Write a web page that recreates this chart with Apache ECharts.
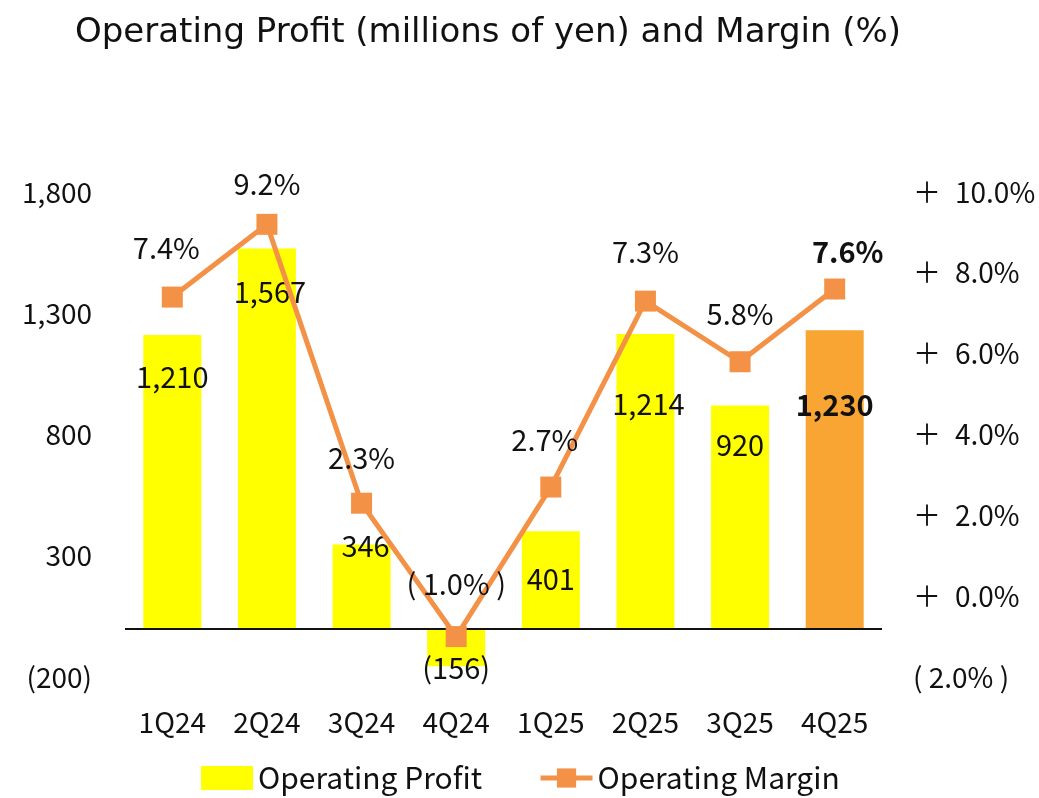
<!DOCTYPE html>
<html>
<head>
<meta charset="utf-8">
<script src="https://cdn.jsdelivr.net/npm/echarts@6/dist/echarts.min.js"></script>
<style>
	html, body { margin: 0; padding: 0; background: #fff; }
	#chart { width: 1039px; height: 798px; }
</style>
</head>
<body>
<div id="chart"></div>
<script>
	var quarters = ['1Q24', '2Q24', '3Q24', '4Q24', '1Q25', '2Q25', '3Q25', '4Q25'];
	var operatingProfit = [1210, 1567, 346, -156, 401, 1214, 920, 1230];
	var operatingMargin = [7.4, 9.2, 2.3, -1.0, 2.7, 7.3, 5.8, 7.6];

	// hand placed labels in the original slide, offsets in px
	var barLabelOffsets = [[0, 22], [3, 24], [4, -18], [0, -18], [0, 28], [3, 50], [0, 20], [0, 55]];
	var lineLabelOffsets = [[-6, -2], [0, 7], [0, 2], [0, -6], [-6, 0], [0, -2], [0, -1], [13, 10]];

	var font = '"Noto Sans CJK JP", "Noto Sans", sans-serif';
	var yellow = '#FFFF00';
	var orange = '#F9A533';
	var lineColor = '#F39247';

	function fmtProfit(v) {
		if (v < 0) return '(' + Math.abs(v).toLocaleString('en-US') + ')';
		return v.toLocaleString('en-US');
	}

	var barData = operatingProfit.map(function(v, i) {
		var last = i === operatingProfit.length - 1;
		return {
			value: v,
			itemStyle: { color: last ? orange : yellow },
			label: {
				position: v < 0 ? 'bottom' : 'insideTop',
				offset: barLabelOffsets[i],
				fontWeight: last ? 'bold' : 'normal'
			}
		};
	});

	var lineData = operatingMargin.map(function(v, i) {
		var last = i === operatingMargin.length - 1;
		return {
			value: v,
			label: {
				offset: lineLabelOffsets[i],
				fontWeight: last ? 'bold' : 'normal',
				formatter: v < 0 ? '( ' + Math.abs(v).toFixed(1) + '% )' : v.toFixed(1) + '%'
			}
		};
	});

	var option = {
		animation: false,
		textStyle: { fontFamily: font },
		title: {
			text: 'Operating Profit (millions of yen) and Margin (%)',
			left: 70,
			top: 11,
			textStyle: {
				fontFamily: '"DejaVu Sans", sans-serif',
				fontWeight: 'normal',
				fontSize: 34,
				color: '#111'
			}
		},
		legend: {
			left: 196,
			bottom: 0,
			itemGap: 56,
			itemWidth: 52,
			itemHeight: 24,
			textStyle: { fontFamily: font, fontSize: 30, color: '#111' },
			data: [
				{ name: 'Operating Profit', icon: 'rect', itemStyle: { color: yellow } },
				{ name: 'Operating Margin', lineStyle: { width: 5, color: lineColor } }
			]
		},
		grid: { left: 125, right: 157, top: 192, bottom: 121 },
		xAxis: {
			type: 'category',
			data: quarters,
			axisLine: { show: false },
			axisTick: { show: false },
			axisLabel: { margin: 31, fontSize: 28, color: '#111', fontFamily: font }
		},
		yAxis: [{
			type: 'value',
			min: -200,
			max: 1800,
			interval: 500,
			splitLine: { show: false },
			axisLine: { show: false },
			axisTick: { show: false },
			axisLabel: { margin: 33, fontSize: 28, color: '#111', fontFamily: font, formatter: fmtProfit }
		}, {
			type: 'value',
			min: -2,
			max: 10,
			interval: 2,
			splitLine: { show: false },
			axisLine: { show: false },
			axisTick: { show: false },
			axisLabel: {
				margin: 31, fontSize: 28, color: '#111', fontFamily: font,
				formatter: function(v) {
					if (v < 0) return '( ' + Math.abs(v).toFixed(1) + '% )';
					return '＋\u2002' + v.toFixed(1) + '%';
				}
			}
		}],
		series: [{
			name: 'Operating Profit',
			type: 'bar',
			yAxisIndex: 0,
			barWidth: 58,
			data: barData,
			label: {
				show: true,
				fontSize: 29,
				color: '#111',
				fontFamily: font,
				formatter: function(p) { return fmtProfit(p.value); }
			},
			markLine: {
				silent: true,
				symbol: 'none',
				label: { show: false },
				lineStyle: { color: '#111', type: 'solid', width: 2 },
				data: [{ yAxis: 0 }]
			}
		}, {
			name: 'Operating Margin',
			type: 'line',
			yAxisIndex: 1,
			symbol: 'rect',
			symbolSize: 21,
			itemStyle: { color: lineColor },
			lineStyle: { color: lineColor, width: 5 },
			data: lineData,
			label: {
				show: true,
				position: 'top',
				distance: 22,
				fontSize: 29,
				color: '#111',
				fontFamily: font
			},
			z: 5
		}]
	};

	var chart = echarts.init(document.getElementById('chart'));
	chart.setOption(option);
</script>
</body>
</html>
